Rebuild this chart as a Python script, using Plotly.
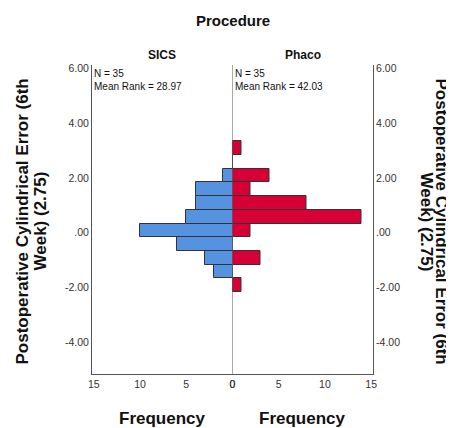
import plotly.graph_objects as go
from plotly.subplots import make_subplots

# Bin centres of the cylindrical error (bin width 0.5)
bin_centers = [-1.917, -1.417, -0.917, -0.417, 0.083, 0.583, 1.083, 1.583, 2.083, 2.583, 3.083]
sics_counts = [0, 2, 3, 6, 10, 5, 4, 4, 1, 0, 0]
phaco_counts = [1, 0, 3, 0, 2, 14, 8, 2, 4, 0, 1]
bin_width = 0.5

y_tickvals = [6, 4, 2, 0, -2, -4]
y_ticktext = ["6.00", "4.00", "2.00", ".00", "-2.00", "-4.00"]
x_tickvals = [0, 5, 10, 15]

groups = ["SICS", "Phaco"]
n_values = [35, 35]
mean_ranks = [28.97, 42.03]
x_title = "Frequency"
y_title_lines = ["Postoperative Cylindrical Error (6th", "Week) (2.75)"]

FONT = "Liberation Sans, Arial, sans-serif"

fig = make_subplots(rows=1, cols=2, shared_yaxes=True, horizontal_spacing=0)

fig.add_trace(go.Bar(
    y=bin_centers, x=sics_counts, orientation="h", width=bin_width,
    marker=dict(color="#5593e1", line=dict(color="#333333", width=1)),
    showlegend=False, hoverinfo="x+y"), row=1, col=1)
fig.add_trace(go.Bar(
    y=bin_centers, x=phaco_counts, orientation="h", width=bin_width,
    marker=dict(color="#d60036", line=dict(color="#333333", width=1)),
    showlegend=False, hoverinfo="x+y"), row=1, col=2)

tickfont = dict(family=FONT, size=10.5, color="#333333")
xrange_max = 15.2

for col, rng in ((1, [xrange_max, 0]), (2, [0, xrange_max])):
    fig.update_xaxes(range=rng, tickvals=x_tickvals, ticktext=[str(v) for v in x_tickvals],
                     showline=True, linecolor="#555555", linewidth=1, showgrid=False, zeroline=False,
                     ticks="", tickfont=tickfont, automargin=False, row=1, col=col)

yrange = [-5.16, 6.12]
fig.update_yaxes(range=yrange, tickvals=y_tickvals, ticktext=y_ticktext, showgrid=False,
                 zeroline=False, showline=True, linecolor="#555555", linewidth=1,
                 ticks="", tickfont=tickfont, automargin=False, row=1, col=1)
fig.update_yaxes(range=yrange, tickvals=y_tickvals, ticktext=y_ticktext, showgrid=False,
                 zeroline=False, showline=True, linecolor="#555555", linewidth=1, side="right",
                 showticklabels=True, ticks="", tickfont=tickfont, automargin=False, row=1, col=2)

# centre divider
fig.add_shape(type="line", xref="x2", yref="paper", x0=0, x1=0, y0=0, y1=1,
              line=dict(color="#555555", width=1))

ann = []
ann.append(dict(text="<b>Procedure</b>", xref="paper", yref="paper", x=0.5, y=1, yshift=45,
                showarrow=False, font=dict(family=FONT, size=15, color="#111111"),
                xanchor="center", yanchor="middle"))
for i, g in enumerate(groups):
    ann.append(dict(text="<b>%s</b>" % g, xref="paper", yref="paper", x=0.25 + 0.5 * i, y=1, yshift=10,
                    showarrow=False, font=dict(family=FONT, size=12, color="#111111"),
                    xanchor="center", yanchor="middle"))
    ann.append(dict(text="N = %d<br>Mean Rank = %.2f" % (n_values[i], mean_ranks[i]),
                    xref="paper", yref="paper", x=0.5 * i, y=1, xshift=0, yshift=-1,
                    xanchor="left", yanchor="top", align="left", showarrow=False,
                    font=dict(family=FONT, size=10, color="#111111")))
    ann.append(dict(text="<b>%s</b>" % x_title, xref="paper", yref="paper", x=0.25 + 0.5 * i, y=0,
                    yshift=-44, showarrow=False, xanchor="center", yanchor="middle",
                    font=dict(family=FONT, size=17, color="#111111")))

left_shifts = [-70, -52]
right_shifts = [68, 53]
for line, ls, rs in zip(y_title_lines, left_shifts, right_shifts):
    ann.append(dict(text="<b>%s</b>" % line, xref="paper", yref="paper", x=0, y=0.5, xshift=ls,
                    yshift=-2, textangle=-90, showarrow=False, xanchor="center", yanchor="middle",
                    font=dict(family=FONT, size=17, color="#111111")))
    ann.append(dict(text="<b>%s</b>" % line, xref="paper", yref="paper", x=1, y=0.5, xshift=rs,
                    yshift=-2, textangle=90, showarrow=False, xanchor="center", yanchor="middle",
                    font=dict(family=FONT, size=17, color="#111111")))

# page body adds an 8px offset, so the figure is sized to compensate
fig.update_layout(width=446, height=420, margin=dict(l=84, r=81, t=57, b=54),
                  plot_bgcolor="white", paper_bgcolor="white", bargap=0,
                  annotations=ann, font=dict(family=FONT))

fig.write_html("out.html")
